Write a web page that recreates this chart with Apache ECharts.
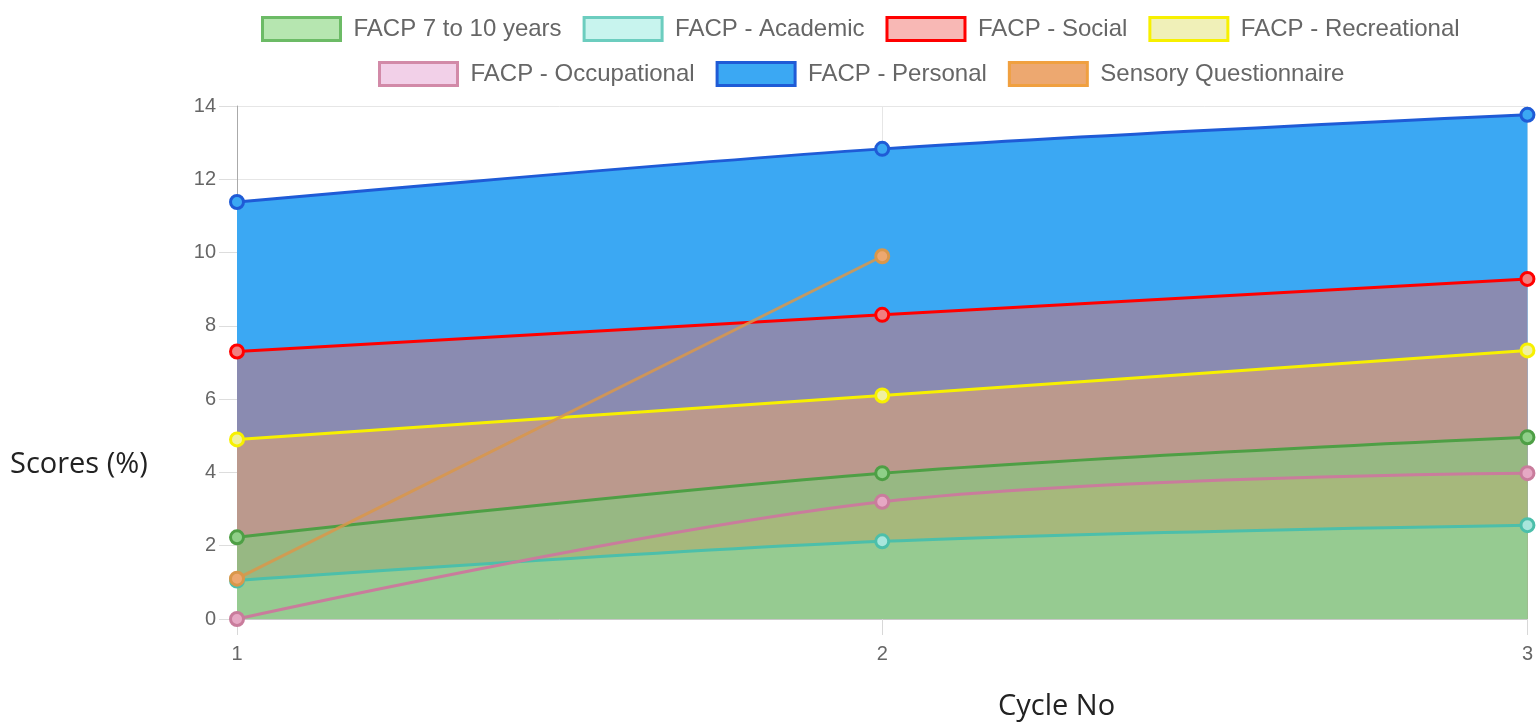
<!DOCTYPE html>
<html>
<head>
<meta charset="utf-8">
<script src="https://cdn.jsdelivr.net/npm/echarts@6/dist/echarts.min.js"></script>
<style>
html,body{margin:0;padding:0;background:#fff;}
#chart{width:1536px;height:726px;}
</style>
</head>
<body>
<div id="chart"></div>
<script>
// ---- data ----
const categories = ['1', '2', '3'];
const seriesNames = ['FACP 7 to 10 years', 'FACP - Academic', 'FACP - Social', 'FACP - Recreational',
  'FACP - Occupational', 'FACP - Personal', 'Sensory Questionnaire'];
const facp710 = [2.23, 3.98, 4.96];
const academic = [1.05, 2.12, 2.56];
const social = [7.3, 8.3, 9.28];
const recreational = [4.9, 6.1, 7.33];
const occupational = [0, 3.2, 3.98];
const personal = [11.38, 12.83, 13.76];
const sensory = [1.1, 9.9, null];
const yTicks = { min: 0, max: 14, step: 2 };

// ---- styles (separate from data) ----
const values = [facp710, academic, social, recreational, occupational, personal, sensory];
const styles = [
  { line: '#4e9f45', point: '#8fcf88', legendFill: '#b6e6b0', legendBorder: '#6cbb66', area: '#97b883' },
  { line: '#4cbfaa', point: '#a8e6dc', legendFill: '#c8f4ee', legendBorder: '#6ccdbf', area: '#96cb91' },
  { line: '#ff0000', point: '#f08080', legendFill: '#f8b8b5', legendBorder: '#ff0000', area: '#8a8bb1' },
  { line: '#f7f000', point: '#f0f0a0', legendFill: '#f0f0b8', legendBorder: '#f7f000', area: '#bb998d' },
  { line: '#c97c9c', point: '#e6a8c4', legendFill: '#f2d0e8', legendBorder: '#d28aa8', area: '#a6b87c' },
  { line: '#1f5bd6', point: '#3ba8f3', legendFill: '#3ba8f3', legendBorder: '#1f5bd6', area: '#3ba8f3' },
  { line: '#d9974a', point: '#eda870', legendFill: '#eda870', legendBorder: '#f0a040', area: null }
];
// draw order of filled areas: largest first, smallest last (on top)
const areaOrder = [5, 2, 3, 0, 4, 1];
const lineOrder = [0, 1, 2, 3, 4, 5, 6];

const series = [];
areaOrder.forEach(i => {
  series.push({
    name: seriesNames[i], type: 'line', data: values[i], smooth: 0.35,
    showSymbol: false, silent: true, lineStyle: { width: 0 },
    areaStyle: { color: styles[i].area, opacity: 1 }, z: 1
  });
});
lineOrder.forEach(i => {
  series.push({
    name: seriesNames[i], type: 'line', data: values[i], smooth: i === 6 ? false : 0.35,
    symbol: 'circle', symbolSize: 13, showSymbol: true,
    lineStyle: { color: styles[i].line, width: 3, opacity: i === 6 ? 0.85 : 1 },
    itemStyle: { color: styles[i].point, borderColor: styles[i].line, borderWidth: 3 },
    z: 5
  });
});

function legendData(idxs) {
  return idxs.map(i => ({
    name: seriesNames[i],
    itemStyle: { color: styles[i].legendFill, borderColor: styles[i].legendBorder, borderWidth: 3 }
  }));
}
const legendCommon = {
  icon: 'rect', itemWidth: 78, itemHeight: 23, itemGap: 21, orient: 'horizontal', padding: 0,
  textStyle: { fontFamily: 'Liberation Sans, Arial, sans-serif', fontSize: 24, color: '#666', padding: [0, 0, 0, 8] },
  selectedMode: false
};

const chart = echarts.init(document.getElementById('chart'), null, { renderer: 'canvas' });
chart.setOption({
  animation: false,
  backgroundColor: '#fff',
  legend: [
    Object.assign({}, legendCommon, { left: 261, top: 16, data: legendData([0, 1, 2, 3]) }),
    Object.assign({}, legendCommon, { left: 378, top: 61, data: legendData([4, 5, 6]) })
  ],
  grid: { left: 237, right: 6, top: 106, bottom: 107, containLabel: false },
  xAxis: {
    type: 'category', data: categories, boundaryGap: false,
    axisLine: { show: true, lineStyle: { color: '#c8c8c8', width: 1 } },
    axisTick: { show: true, length: 16, lineStyle: { color: '#d8d8d8' } },
    axisLabel: { color: '#666', fontSize: 20, margin: 25, fontFamily: 'Liberation Sans, Arial, sans-serif' },
    splitLine: { show: true, lineStyle: { color: '#e6e6e6', width: 1 } }
  },
  yAxis: {
    type: 'value', min: yTicks.min, max: yTicks.max, interval: yTicks.step,
    axisLine: { show: true, lineStyle: { color: '#aaaaaa', width: 1 } },
    axisTick: { show: true, length: 18, lineStyle: { color: '#dddddd' } },
    axisLabel: { color: '#666', fontSize: 20, margin: 21, fontFamily: 'Liberation Sans, Arial, sans-serif' },
    splitLine: { show: true, lineStyle: { color: '#e6e6e6', width: 1 } }
  },
  graphic: [
    { type: 'text', left: 10, top: 450, style: { text: 'Scores (%)', fontSize: 29, fontFamily: 'Open Sans, sans-serif', fill: '#222' } },
    { type: 'text', left: 998, top: 692, style: { text: 'Cycle No', fontSize: 29, fontFamily: 'Open Sans, sans-serif', fill: '#222' } }
  ],
  series: series
});
</script>
</body>
</html>
